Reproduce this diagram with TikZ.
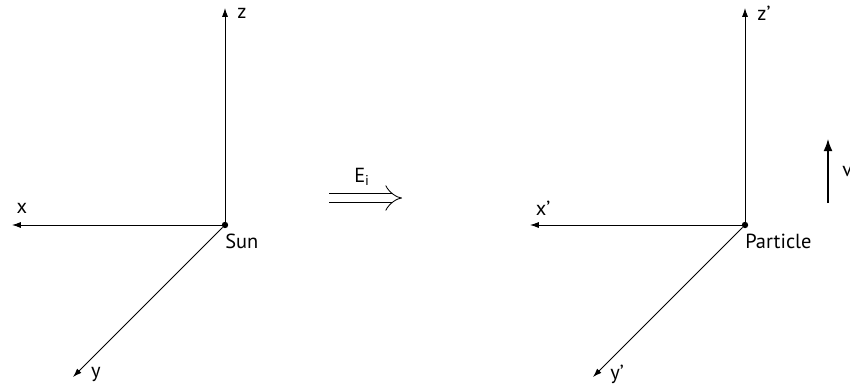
\documentclass[tikz,border=0pt]{standalone}
\usepackage{fontspec}
\setmainfont{PT Sans}
\usepackage{tikz}
\usetikzlibrary{arrows.meta,positioning}

\begin{document}
\begin{tikzpicture}[
  x=0.025cm, y=-0.025cm,
  font=\fontsize{14.5}{17}\selectfont,
  axis/.style={-{Latex[length=2.2mm,width=1.5mm]}, line width=0.6pt},
  speed/.style={-{Latex[length=3mm,width=2.2mm]}, line width=0.8pt},
  origin/.style={circle, fill, inner sep=0pt, minimum size=1.6mm},
  lbl/.style={inner sep=0pt},
  mapto/.style={double, double distance=2.1mm, line width=0.6pt,
    -{Implies[length=2.4mm]}}
]
\useasboundingbox (0,0) rectangle (850,389);

% sun frame
\node[origin] (sun) at (225,225) {};
\coordinate (sunx) at (12,225);
\coordinate (suny) at (73,377);
\coordinate (sunz) at (225,8);
\draw[axis] (sun) -- (sunx);
\draw[axis] (sun) -- (suny);
\draw[axis] (sun) -- (sunz);
\node[lbl] (lx) at (22,208) {x};
\node[lbl] (ly) at (96,374) {y};
\node[lbl] (lz) at (242,13) {z};
\node[lbl, anchor=west] (lsun) at (225,241) {Sun};

% transformation
\coordinate (ein) at (329,198);
\coordinate (eout) at (402,198);
\draw[mapto] (ein) -- (eout);
\node[lbl] (ei) at (362,177) {E\textsubscript{i}};

% particle frame
\node[origin] (part) at (745,225) {};
\coordinate (partx) at (530,225);
\coordinate (party) at (593,377);
\coordinate (partz) at (745,8);
\draw[axis] (part) -- (partx);
\draw[axis] (part) -- (party);
\draw[axis] (part) -- (partz);
\node[lbl] (px) at (543,208) {x’};
\node[lbl] (py) at (617,374) {y’};
\node[lbl] (pz) at (764,13) {z’};
\node[lbl, anchor=west] (lpart) at (745,241) {Particle};

% velocity
\coordinate (vfoot) at (828,203);
\coordinate (vhead) at (828,139);
\draw[speed] (vfoot) -- (vhead);
\node[lbl, anchor=west] (lv) at (842,172) {v};
\end{tikzpicture}
\end{document}
